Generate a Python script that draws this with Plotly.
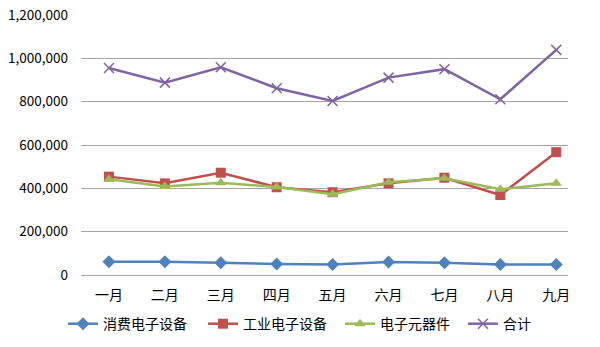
import plotly.graph_objects as go

months = ["一月", "二月", "三月", "四月", "五月", "六月", "七月", "八月", "九月"]
consumer = [61000, 61000, 57000, 51000, 49000, 60000, 57000, 49000, 49000]
industrial = [454000, 423000, 472000, 405000, 382000, 423000, 449000, 369000, 567000]
components = [442000, 408000, 426000, 406000, 373000, 428000, 447000, 396000, 423000]
total = [955000, 888000, 959000, 862000, 803000, 911000, 950000, 811000, 1039000]
y_ticks = [0, 200000, 400000, 600000, 800000, 1000000, 1200000]

series = [
    ("消费电子设备", consumer, "#4F81BD", "diamond", 10),
    ("工业电子设备", industrial, "#C0504D", "square", 10),
    ("电子元器件", components, "#9BBB59", "triangle-up", 10),
    ("合计", total, "#8064A2", "x-thin", 10),
]
legend_ids = ["legend", "legend2", "legend3", "legend4"]
legend_x_px = [63, 203, 340, 463]

xs = list(range(len(months)))
fig = go.Figure()
for (name, vals, color, sym, size), lid in zip(series, legend_ids):
    marker = dict(symbol=sym, size=size, color=color)
    if sym == "x-thin":
        marker["line"] = dict(color=color, width=1.5)
    fig.add_trace(go.Scatter(
        x=xs, y=vals, name=name, mode="lines+markers",
        line=dict(color=color, width=2.5), marker=marker, legend=lid,
    ))

font_family = "Noto Sans CJK SC, Noto Sans, sans-serif"
legend_common = dict(orientation="h", xref="container", yref="container",
                     xanchor="left", y=0.066, yanchor="middle",
                     font=dict(size=14), bgcolor="rgba(0,0,0,0)")
legends = {}
for lid, px in zip(legend_ids, legend_x_px):
    legends[lid] = dict(legend_common, x=px / 600)

fig.update_layout(
    width=600, height=347,
    margin=dict(l=81, r=32, t=15, b=72, autoexpand=False),
    paper_bgcolor="white", plot_bgcolor="white",
    font=dict(family=font_family, size=12, color="#000000"),
    showlegend=True,
    xaxis=dict(
        tickmode="array", tickvals=xs, ticktext=months,
        range=[-0.5, 8.21], showgrid=False, zeroline=False,
        showline=False, ticks="", tickfont=dict(size=14),
        ticklabelstandoff=10,
    ),
    yaxis=dict(
        range=[0, 1200000], tickmode="array", tickvals=y_ticks,
        tickformat=",d", showgrid=True, gridcolor="#A6A6A6", gridwidth=1,
        zeroline=True, zerolinecolor="#A6A6A6", zerolinewidth=1,
        showline=False, ticks="", ticklabelstandoff=12, tickfont=dict(size=13.5),
    ),
    **legends,
)

fig.write_html("out.html")
